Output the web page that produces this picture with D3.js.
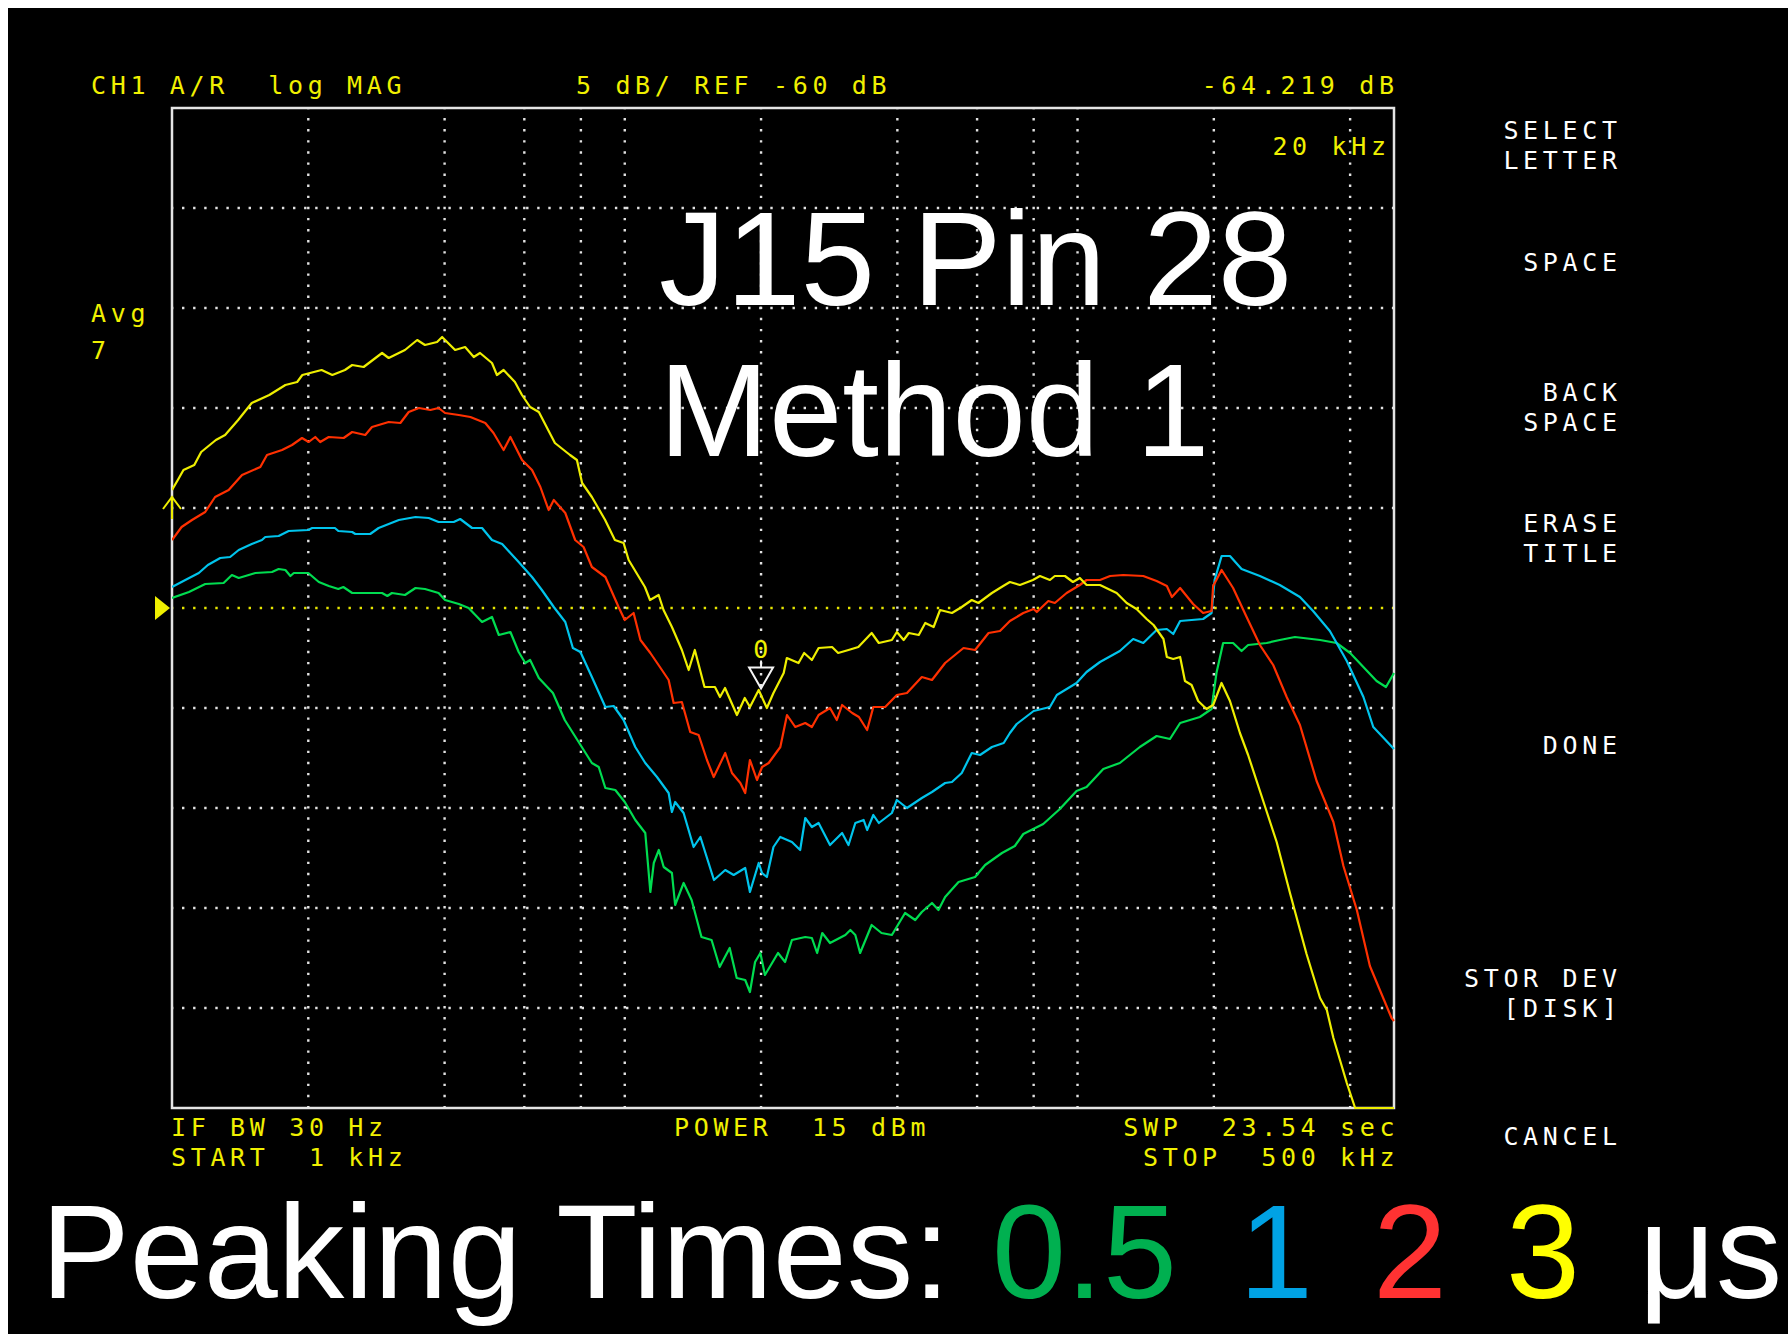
<!DOCTYPE html>
<html>
<head>
<meta charset="utf-8">
<script src="https://cdn.jsdelivr.net/npm/d3@7"></script>
<style>
  body { margin: 0; background: #fff; }
  svg { display: block; }
  text { white-space: pre; }
</style>
</head>
<body>
<svg id="chart" width="1788" height="1334"></svg>
<script>
// traces: [frequency kHz, magnitude dB]
var green = [[1.00,-59.5],[1.09,-59.2],[1.184,-58.8],[1.30,-58.75],[1.356,-58.35],[1.404,-58.5],[1.528,-58.25],[1.663,-58.2],[1.72,-58.05],[1.78,-58.1],[1.826,-58.4],[1.858,-58.25],[2.00,-58.25],[2.11,-58.7],[2.22,-58.9],[2.33,-59.05],[2.39,-58.95],[2.50,-59.25],[2.91,-59.25],[2.99,-59.4],[3.06,-59.25],[3.27,-59.35],[3.45,-59.0],[3.62,-59.05],[3.88,-59.25],[4.01,-59.6],[4.30,-59.8],[4.52,-60.0],[4.84,-60.7],[5.09,-60.45],[5.27,-61.35],[5.59,-61.2],[5.83,-62.2],[6.03,-62.75],[6.18,-62.6],[6.46,-63.5],[6.94,-64.25],[7.37,-65.6],[8.46,-67.75],[8.76,-67.95],[9.06,-69.0],[9.53,-69.1],[10.0,-69.7],[10.55,-70.6],[11.1,-71.25],[11.39,-74.2],[11.59,-72.75],[11.89,-72.1],[12.19,-72.95],[12.71,-73.25],[12.92,-74.85],[13.49,-73.75],[14.05,-74.6],[14.77,-76.45],[15.55,-76.6],[16.2,-77.95],[17.05,-77.0],[17.67,-78.5],[18.45,-78.6],[18.9,-79.2],[19.4,-77.7],[19.93,-77.25],[20.4,-78.35],[21.8,-77.25],[22.6,-77.7],[23.4,-76.6],[25.04,-76.45],[25.9,-76.5],[26.6,-77.25],[27.3,-76.25],[28.4,-76.75],[30.7,-76.35],[31.5,-76.1],[32.3,-76.35],[33.1,-77.25],[35.1,-75.85],[36.9,-76.25],[38.9,-76.35],[41.6,-75.25],[43.8,-75.6],[45.3,-75.2],[47.7,-74.75],[49.3,-75.1],[51.0,-74.45],[54.6,-73.7],[59.4,-73.45],[62.5,-72.85],[68.1,-72.25],[72.7,-71.9],[75.9,-71.3],[84.0,-70.8],[91.4,-70.05],[99.5,-69.15],[104.7,-68.95],[114.0,-68.05],[124.0,-67.75],[137.3,-66.95],[149.5,-66.4],[160.0,-66.55],[168.5,-65.75],[186.3,-65.45],[197.7,-65.05],[202.7,-63.25],[209.7,-61.75],[220.6,-61.75],[230.3,-62.15],[238.1,-61.85],[261.6,-61.75],[279.7,-61.6],[302.1,-61.45],[343.3,-61.6],[373.4,-61.75],[400,-62.25],[457.6,-63.65],[480,-63.95],[500,-63.25]];

var cyan = [[1.00,-58.95],[1.07,-58.6],[1.146,-58.25],[1.2,-57.85],[1.278,-57.5],[1.344,-57.45],[1.404,-57.1],[1.50,-56.8],[1.58,-56.6],[1.607,-56.45],[1.72,-56.4],[1.81,-56.15],[2.00,-56.1],[2.04,-56.0],[2.29,-56.0],[2.33,-56.15],[2.50,-56.2],[2.54,-56.3],[2.74,-56.3],[2.86,-56.0],[3.17,-55.6],[3.45,-55.45],[3.69,-55.5],[3.88,-55.7],[4.19,-55.7],[4.33,-55.55],[4.60,-56.0],[4.84,-56.0],[5.09,-56.6],[5.36,-56.8],[5.83,-57.7],[6.24,-58.45],[6.56,-59.1],[6.97,-59.95],[7.39,-60.7],[7.68,-62.0],[7.98,-62.2],[8.46,-63.45],[9.06,-64.95],[9.45,-64.9],[9.94,-65.6],[10.55,-66.95],[11.1,-67.75],[11.78,-68.45],[12.5,-69.25],[12.71,-70.2],[12.92,-69.7],[13.49,-70.25],[14.19,-71.95],[14.69,-71.45],[15.74,-73.6],[16.67,-73.1],[17.4,-73.35],[18.45,-73.0],[18.9,-74.2],[19.76,-72.75],[20.1,-73.25],[20.6,-73.45],[21.3,-71.95],[22.05,-71.45],[23.4,-71.7],[24.4,-72.1],[25.04,-70.5],[25.9,-70.95],[26.8,-70.75],[28.4,-71.85],[30.2,-71.25],[31.2,-71.85],[32.3,-70.75],[33.7,-70.6],[34.3,-71.1],[35.4,-70.35],[36.4,-70.75],[38.9,-70.25],[39.9,-69.6],[42.0,-70.0],[45.3,-69.5],[47.7,-69.2],[51.0,-68.75],[52.8,-68.7],[55.5,-68.25],[58.4,-67.25],[60.9,-67.35],[64.7,-66.95],[68.7,-66.75],[70.9,-66.25],[73.4,-65.8],[80.0,-65.15],[86.9,-64.95],[90.0,-64.35],[99.5,-63.75],[104.7,-63.2],[112.1,-62.7],[124.0,-62.15],[132.7,-61.55],[139.7,-61.75],[149.5,-61.1],[157.5,-61.05],[162.7,-61.3],[168.5,-60.65],[189.4,-60.55],[197.7,-60.25],[200.8,-58.6],[208.1,-57.4],[217.1,-57.4],[230.3,-58.05],[252.8,-58.4],[279.7,-58.85],[309.9,-59.45],[331.3,-60.15],[360.8,-61.15],[393.3,-62.65],[428.0,-64.45],[450,-65.95],[500,-67.05]];

var red = [[1.00,-56.6],[1.05,-55.95],[1.107,-55.6],[1.184,-55.2],[1.245,-54.45],[1.334,-54.1],[1.428,-53.35],[1.567,-52.95],[1.621,-52.35],[1.75,-52.1],[1.841,-51.85],[1.937,-51.5],[2.004,-51.7],[2.072,-51.45],[2.125,-51.7],[2.219,-51.45],[2.394,-51.5],[2.50,-51.2],[2.672,-51.35],[2.765,-50.95],[3.01,-50.7],[3.194,-50.75],[3.333,-50.2],[3.51,-50.0],[3.72,-50.1],[3.88,-50.0],[4.01,-50.25],[4.30,-50.35],[4.56,-50.45],[4.92,-50.75],[5.13,-51.25],[5.40,-52.1],[5.59,-51.45],[5.93,-52.6],[6.24,-53.1],[6.51,-53.95],[6.79,-55.1],[6.97,-54.6],[7.39,-55.25],[7.77,-56.6],[8.11,-56.95],[8.46,-57.95],[9.06,-58.45],[9.69,-59.95],[10.0,-60.6],[10.46,-60.25],[10.83,-61.6],[11.39,-62.25],[12.08,-63.1],[12.5,-63.6],[12.82,-64.75],[13.37,-64.7],[13.95,-66.2],[14.56,-66.35],[15.19,-67.6],[15.72,-68.45],[16.67,-67.25],[17.25,-68.25],[18.0,-68.75],[18.45,-69.25],[18.9,-67.6],[19.59,-68.6],[20.1,-67.95],[20.79,-67.75],[22.06,-66.95],[22.82,-65.35],[23.8,-65.95],[25.04,-65.75],[25.9,-65.95],[26.8,-65.35],[28.4,-65.0],[29.4,-65.6],[30.2,-64.85],[31.8,-65.25],[32.9,-65.45],[34.3,-66.1],[35.4,-64.95],[37.6,-64.95],[39.9,-64.35],[42.0,-64.25],[45.3,-63.45],[47.7,-63.6],[51.0,-62.75],[56.0,-62.0],[59.4,-62.1],[63.6,-61.25],[67.4,-61.15],[70.9,-60.65],[75.9,-60.25],[80.0,-60.05],[81.3,-60.2],[86.2,-59.65],[89.1,-59.75],[94.6,-59.25],[101.2,-58.85],[104.7,-58.6],[112.1,-58.6],[118.0,-58.4],[126.2,-58.35],[139.7,-58.4],[149.5,-58.65],[157.5,-58.9],[161.6,-59.45],[168.5,-59.0],[180.0,-59.8],[189.4,-60.25],[197.7,-60.15],[199.3,-58.9],[208.1,-58.1],[220.6,-59.0],[236.3,-60.45],[252.8,-61.85],[270.5,-62.85],[289.7,-64.45],[309.9,-65.85],[337.3,-68.65],[367.4,-70.7],[386.6,-72.9],[413.9,-75.1],[442.3,-77.9],[465.3,-79.1],[493.8,-80.5],[500,-80.65]];

var yellow = [[1.00,-54.1],[1.03,-53.6],[1.06,-53.1],[1.12,-52.85],[1.16,-52.2],[1.25,-51.6],[1.31,-51.35],[1.40,-50.6],[1.50,-49.75],[1.64,-49.35],[1.78,-48.85],[1.89,-48.7],[1.94,-48.35],[2.14,-48.1],[2.26,-48.35],[2.41,-48.1],[2.50,-47.85],[2.65,-47.95],[2.91,-47.25],[3.01,-47.5],[3.27,-47.1],[3.48,-46.6],[3.62,-46.85],[3.85,-46.7],[3.95,-46.45],[4.22,-47.1],[4.44,-46.95],[4.64,-47.45],[4.79,-47.25],[5.09,-47.75],[5.22,-48.35],[5.40,-48.1],[5.72,-48.7],[5.93,-49.35],[6.18,-49.95],[6.46,-50.2],[7.01,-51.75],[7.57,-52.35],[7.84,-52.6],[8.05,-53.75],[8.46,-54.45],[9.05,-55.6],[9.51,-56.6],[9.94,-56.75],[10.2,-57.6],[11.08,-58.95],[11.37,-59.6],[11.88,-59.35],[12.18,-60.1],[12.71,-60.95],[13.37,-62.1],[13.84,-63.1],[14.28,-62.1],[15.0,-63.95],[15.82,-63.95],[16.23,-64.45],[16.65,-64.0],[17.69,-65.35],[18.41,-64.5],[18.9,-64.95],[19.76,-64.1],[20.6,-65.0],[21.3,-64.25],[22.44,-63.25],[22.8,-62.5],[24.2,-62.75],[24.9,-62.25],[25.9,-62.6],[26.8,-62.0],[28.7,-61.95],[29.6,-62.25],[31.2,-62.1],[32.8,-61.95],[35.1,-61.25],[36.4,-61.75],[38.9,-61.6],[39.9,-61.2],[41.3,-61.6],[42.4,-61.25],[44.6,-61.35],[46.1,-60.75],[48.1,-60.95],[49.7,-60.1],[52.8,-60.25],[55.5,-59.95],[58.4,-59.6],[60.4,-59.75],[64.7,-59.25],[67.4,-59.0],[69.1,-58.85],[70.9,-58.7],[74.6,-58.85],[79.7,-58.6],[82.6,-58.4],[86.9,-58.6],[89.1,-58.4],[93.8,-58.4],[97.7,-58.7],[101.2,-58.5],[104.7,-58.85],[112.1,-58.85],[122,-59.25],[128.4,-59.75],[135,-60.05],[142.1,-60.55],[147.2,-60.85],[154.8,-61.55],[157.5,-62.45],[162.7,-62.55],[168.5,-62.45],[172.7,-63.65],[178.6,-63.85],[184.7,-64.65],[192.7,-65.05],[199.3,-64.85],[208,-63.75],[217.1,-64.65],[228.4,-66.25],[238.1,-67.35],[257.1,-69.65],[275.3,-71.7],[295,-74.3],[320.5,-77.3],[343.3,-79.5],[355.3,-80.1],[367.4,-81.5],[393.3,-83.75],[410.3,-85],[500,-85]];

// axis setup: 1 kHz .. 500 kHz log, REF -60 dB, 5 dB/div
var freqRange = [1, 500];
var dbRange = [-85, -35];
var freqGrid = [2, 4, 6, 8, 10, 20, 40, 60, 80, 100, 200, 400];
var dbGrid = [-40, -45, -50, -55, -65, -70, -75, -80];
var refLevel = -60;
var markerFreq = 20, markerDb = -64.219;

// screen annotations
var headerLeft = "CH1 A/R  log MAG";
var headerMid = "5 dB/ REF -60 dB";
var headerRight = "-64.219 dB";
var markerStim = "20 kHz";
var avgLines = ["Avg", "7"];
var footerLeft = ["IF BW 30 Hz", "START  1 kHz"];
var footerMid = "POWER  15 dBm";
var footerRight = ["SWP  23.54 sec", "STOP  500 kHz"];
var softkeys = [["SELECT", "LETTER"], ["SPACE"], ["BACK", "SPACE"], ["ERASE", "TITLE"], ["DONE"], ["STOR DEV", "[DISK]"], ["CANCEL"]];
var titleLines = ["J15 Pin 28", "Method 1"];
var peakLabel = "Peaking Times:";
var peakValues = ["0.5", "1", "2", "3"];
var peakUnit = "μs";

// ---- layout / style ----
var frame = {left: 172, right: 1394, top: 108, bottom: 1108};
var traceColor = {green: "#00dc50", cyan: "#00c4ec", red: "#ff3000", yellow: "#eeee00"};
var peakColor = ["#00b050", "#00a2e4", "#ff3232", "#ffff00"];
var peakX = [992, 1239, 1373, 1506];
var softkeyY = [139, 271, 401, 532, 754, 987, 1145];
var hpYellow = "#f0f000";
var mono = "'DejaVu Sans Mono', 'Liberation Mono', monospace";
var sans = "'Liberation Sans', Arial, sans-serif";
var hpSize = 25, hpAdvance = 19.7;

var svg = d3.select("#chart");

svg.append("rect").attr("width", 1788).attr("height", 1334).attr("fill", "#fff");
svg.append("rect").attr("x", 8).attr("y", 8).attr("width", 1780).attr("height", 1326).attr("fill", "#000");

var x = d3.scaleLog().domain(freqRange).range([frame.left, frame.right]);
var y = d3.scaleLinear().domain(dbRange).range([frame.bottom, frame.top]);

/* dotted graticule */
var dots = "2.4,8.7";
var grid = svg.append("g");
grid.selectAll("line.v").data(freqGrid).enter().append("line")
  .attr("x1", d => x(d)).attr("x2", d => x(d))
  .attr("y1", frame.top).attr("y2", frame.bottom)
  .attr("stroke", "#e2e2e2").attr("stroke-width", 2.4)
  .attr("stroke-dasharray", dots).attr("stroke-dashoffset", -10);
grid.selectAll("line.h").data(dbGrid).enter().append("line")
  .attr("x1", frame.left).attr("x2", frame.right)
  .attr("y1", d => y(d)).attr("y2", d => y(d))
  .attr("stroke", "#e2e2e2").attr("stroke-width", 2.4)
  .attr("stroke-dasharray", dots).attr("stroke-dashoffset", -10);
grid.append("line")
  .attr("x1", frame.left).attr("x2", frame.right)
  .attr("y1", y(refLevel)).attr("y2", y(refLevel))
  .attr("stroke", "#e6e600").attr("stroke-width", 2.4)
  .attr("stroke-dasharray", dots).attr("stroke-dashoffset", -10);

svg.append("rect")
  .attr("x", frame.left).attr("y", frame.top)
  .attr("width", frame.right - frame.left).attr("height", frame.bottom - frame.top)
  .attr("fill", "none").attr("stroke", "#e4e4e4").attr("stroke-width", 2.5);

svg.append("clipPath").attr("id", "plotClip").append("rect")
  .attr("x", frame.left).attr("y", frame.top - 2)
  .attr("width", frame.right - frame.left + 1).attr("height", frame.bottom - frame.top + 3);

var line = d3.line().x(d => x(d[0])).y(d => y(d[1]));
var traces = [["green", green], ["cyan", cyan], ["red", red], ["yellow", yellow]];
svg.append("g").attr("clip-path", "url(#plotClip)")
  .selectAll("path").data(traces).enter().append("path")
  .attr("d", d => line(d[1]))
  .attr("fill", "none")
  .attr("stroke", d => traceColor[d[0]])
  .attr("stroke-width", 2.2)
  .attr("stroke-linejoin", "round");

// reference level pointer on left edge
var ry = y(refLevel);
svg.append("path")
  .attr("d", "M155," + (ry - 12) + "L170," + ry + "L155," + (ry + 12) + "Z")
  .attr("fill", "#f0f000");

// small start arrow on the yellow trace
var ay = y(yellow[0][1]) + 7;
svg.append("path")
  .attr("d", "M163," + (ay + 12) + "L172," + ay + "L181," + (ay + 12) + "M172," + ay + "V" + (ay + 22))
  .attr("fill", "none").attr("stroke", traceColor.yellow).attr("stroke-width", 2);

// marker 0
var mx = x(markerFreq), my = y(markerDb) - 4;
svg.append("path")
  .attr("d", "M" + (mx - 12) + "," + (my - 21) + "H" + (mx + 12) + "L" + mx + "," + my + "Z" +
        "M" + mx + "," + (my - 21) + "V" + (my - 28))
  .attr("fill", "none").attr("stroke", "#f4f4f4").attr("stroke-width", 2);

// instrument-style text; several lines go into one text element as tspans
function hpText(px, py, lines, color, anchor, lead) {
  var end = anchor === "end";
  var ls = hpAdvance - 0.602 * hpSize;
  if (!Array.isArray(lines)) lines = [lines];
  var t = svg.append("text")
    .attr("fill", color)
    .attr("font-family", mono).attr("font-size", hpSize)
    .attr("letter-spacing", ls)
    .attr("text-anchor", anchor || "start");
  lines.forEach(function(s, i) {
    t.append("tspan")
      .attr("x", end ? px + ls : px)
      .attr("y", py + i * (lead || 29.5))
      .text(s);
  });
  return t;
}

hpText(mx + 2, my - 30, "0", hpYellow, "middle");

hpText(91, 94, headerLeft, hpYellow);
hpText(576, 94, headerMid, hpYellow);
hpText(1394, 94, headerRight, hpYellow, "end");
hpText(1386, 155, markerStim, hpYellow, "end");
hpText(91, 322, avgLines, hpYellow, "start", 37);

hpText(171, 1136, footerLeft, hpYellow);
hpText(674, 1136, footerMid, hpYellow);
hpText(1394.5, 1136, footerRight, hpYellow, "end");

softkeys.forEach(function(lines, k) {
  hpText(1617, softkeyY[k], lines, "#ffffff", "end");
});

// big overlay titles
titleLines.forEach(function(t, i) {
  svg.append("text")
    .attr("x", 659).attr("y", 305 + i * 151)
    .attr("fill", "#fff").attr("font-family", sans).attr("font-size", i ? 132 : 134)
    .text(t);
});

svg.append("text")
  .attr("x", 41).attr("y", 1298)
  .attr("fill", "#fff").attr("font-family", sans).attr("font-size", 133)
  .text(peakLabel);
peakValues.forEach(function(t, i) {
  svg.append("text")
    .attr("x", peakX[i]).attr("y", 1298)
    .attr("fill", peakColor[i]).attr("font-family", sans).attr("font-size", 133)
    .text(t);
});
svg.append("text")
  .attr("x", 1639).attr("y", 1298)
  .attr("fill", "#fff").attr("font-family", sans).attr("font-size", 133)
  .text(peakUnit);
</script>
</body>
</html>
